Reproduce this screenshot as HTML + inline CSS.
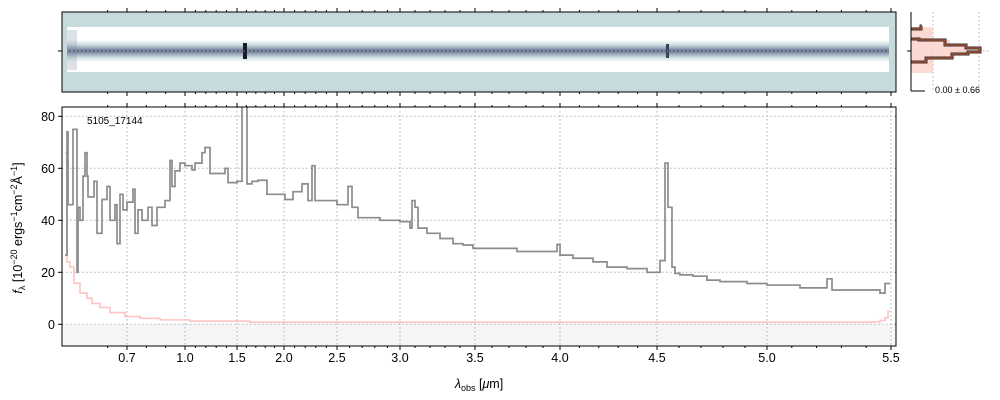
<!DOCTYPE html>
<html><head><meta charset="utf-8"><style>
body{margin:0;background:#fff;}
svg{display:block;font-family:"Liberation Sans","DejaVu Sans",sans-serif;}
</style></head><body>
<svg id="c" width="1000" height="400" viewBox="0 0 1000 400"></svg>
<script>
// spectral pixel index (bin start) and flux values [1e-20 cgs]
const fluxEdges=[3,5,6,11,15,16,18,21,23,25,
 26,32,35,40,45,48,53,55,58,61,
 65,71,73,76,80,86,90,95,103,108,
 110,113,118,123,130,133,140,143,148,163,
 166,175,180,185,190,196,205,223,231,240,
 246,250,253,275,286,290,296,318,338,348,
 350,353,356,365,378,391,401,411,455,495,
 498,511,531,545,565,585,598,603,606,610,
 613,618,631,645,658,685,705,738,765,770,
 818,823];
const fluxVals=[26.6,74,46,75,20,45,40,57,66,57,
 49,55,35,48,53,40,46,31,50,44,
 47,52,35,44,40,45,38,45,47.6,63,
 53,59,62,61,59.4,62,66,68,58,60,
 54.5,55,98,54,55,55.4,50,48,51,54,
 47.6,61,47.6,46,53,45,41,40,39.5,37,
 47.6,45,37,35,33,31,30.5,29.2,28,30.7,
 26.6,25.4,24,22,21.4,20,24.5,62,45,22,
 19.6,19,18.5,17,16.4,15.7,15.1,14,17.5,13.2,
 12,15.7];
const errEdges=[3,5,8,12,18,25,30,38,48,63,78,98,128,188,808,818,823,826];
const errVals=[66,24,22,15.8,12,10,8,6.5,4.5,3,2.3,1.7,1.2,0.8,0.9,1.5,2.5,5];
const tickLabels=["0.7","1.0","1.5","2.0","2.5","3.0","3.5","4.0","4.5","5.0","5.5"];
const tickIndex=[65,123,175,222,275,338,413,498,595,705,829];
const yTicks=[0,20,40,60,80];
const lastIndex=828;
</script>
<script>
(function(){
const NS="http://www.w3.org/2000/svg";
const svg=document.getElementById('c');
function el(t,a,p){const e=document.createElementNS(NS,t);for(const k in a)e.setAttribute(k,a[k]);(p||svg).appendChild(e);return e;}
const X0=62,X1=896,Y0=107,Y1=346;
const xS=i=>X0+i;
const yS=v=>324.3-v*2.6;
const defs=el('defs',{});
const cp=el('clipPath',{id:'cp'},defs);el('rect',{x:X0,y:Y0,width:X1-X0,height:Y1-Y0},cp);

const main=el('g',{});


el('rect',{x:X0,y:yS(0),width:X1-X0,height:Y1-yS(0),fill:'#f6f6f6'},main);
const grid=el('g',{stroke:'#b0b0b0','stroke-width':1,'stroke-dasharray':'1.5,2.5'},main);


tickIndex.forEach(t=>{el('line',{x1:xS(t),x2:xS(t),y1:Y0,y2:Y1},grid);el('line',{x1:xS(t),x2:xS(t),y1:12,y2:92},grid);});
yTicks.forEach(v=>el('line',{x1:X0,x2:X1,y1:yS(v),y2:yS(v)},grid));
function stepPath(edges,vals){let d='';for(let k=0;k<vals.length;k++){const xa=xS(edges[k]),xb=xS(k+1<edges.length?edges[k+1]:lastIndex);const y=yS(vals[k]);d+=(k?'L':'M')+xa+','+y+'L'+xb+','+y;}return d;}
const ep=el('path',{d:stepPath(errEdges,errVals),fill:'none',stroke:'#ffb4b4','stroke-width':1.6,'stroke-opacity':0.8,'clip-path':'url(#cp)'},main);


const fp=el('path',{d:stepPath(fluxEdges,fluxVals),fill:'none',stroke:'#808080','stroke-width':1.7,'stroke-opacity':0.9,'clip-path':'url(#cp)'},main);


el('rect',{x:X0,y:Y0,width:X1-X0,height:Y1-Y0,fill:'none',stroke:'#000','stroke-width':1},main);
const idt=el('text',{x:87,y:124,'font-size':10,fill:'#000'},main);idt.textContent='5105_17144';


function minorTicks(){const m=[];for(let k=0;k<tickIndex.length-1;k++){const a=tickIndex[k],b=tickIndex[k+1];const la=parseFloat(tickLabels[k]),lb=parseFloat(tickLabels[k+1]);const n=Math.round((lb-la)/0.1);for(let j=1;j<n;j++)m.push(a+(b-a)*j/n);}m.push(tickIndex[0]-(tickIndex[1]-tickIndex[0])/3);return m;}
const mt=minorTicks();
function xticks(t0,b0){tickIndex.forEach(t=>{el('line',{x1:xS(t),x2:xS(t),y1:t0,y2:t0-4,stroke:'#000'});el('line',{x1:xS(t),x2:xS(t),y1:b0,y2:b0+4,stroke:'#000'});});
mt.forEach(t=>{el('line',{x1:xS(t),x2:xS(t),y1:t0,y2:t0-2,stroke:'#000'});el('line',{x1:xS(t),x2:xS(t),y1:b0,y2:b0+2,stroke:'#000'});});}
xticks(Y0,Y1);xticks(12,92);
tickLabels.forEach((l,k)=>{const t=el('text',{x:xS(tickIndex[k]),y:362,'font-size':12.5,'text-anchor':'middle'});t.textContent=l;

});
yTicks.forEach(v=>{el('line',{x1:X0,x2:X0-4,y1:yS(v),y2:yS(v),stroke:'#000'});const t=el('text',{x:X0-7,y:yS(v)+4.5,'font-size':12.5,'text-anchor':'end'});t.textContent=v;

});
const xl=el('text',{x:479,y:388,'font-size':12.5,'text-anchor':'middle'});
xl.innerHTML='<tspan font-style="italic">λ</tspan><tspan font-size="9" dy="3">obs</tspan><tspan dy="-3"> [</tspan><tspan font-style="italic">μ</tspan>m]';


const yl=el('text',{x:0,y:0,'font-size':12.5,'text-anchor':'middle',transform:'translate(22,228) rotate(-90)'});
yl.innerHTML='<tspan font-style="italic">f</tspan><tspan font-size="9" dy="3">λ</tspan><tspan dy="-3"> [10</tspan><tspan font-size="9" dy="-5">−20</tspan><tspan dy="5"> ergs</tspan><tspan font-size="9" dy="-5">−1</tspan><tspan dy="5">cm</tspan><tspan font-size="9" dy="-5">−2</tspan><tspan dy="5">Å</tspan><tspan font-size="9" dy="-5">−1</tspan><tspan dy="5">]</tspan>';



const topPanel=el('g',{});


const g2=el('linearGradient',{id:'tr',x1:0,y1:0,x2:0,y2:1},defs);
[[0,'#ffffff'],[0.2,'#d0e2e2'],[0.4,'#8e9cb0'],[0.5,'#56607e'],[0.6,'#8e9cb0'],[0.8,'#d0e2e2'],[1,'#ffffff']].forEach(s=>el('stop',{offset:s[0],'stop-color':s[1]},g2));
el('rect',{x:X0,y:12,width:X1-X0,height:80,fill:'#c6dbdb'},topPanel);
el('rect',{x:67,y:27,width:822,height:45,fill:'#fff'},topPanel);
el('rect',{x:67,y:40,width:822,height:22,fill:'url(#tr)'},topPanel);
el('rect',{x:243,y:43,width:4,height:16,fill:'#1a1a2e'},topPanel);
el('rect',{x:666,y:44,width:3,height:14,fill:'#3a4060'},topPanel);
el('rect',{x:67,y:30,width:10,height:40,fill:'#7a88a0',opacity:0.25},topPanel);
el('line',{x1:67,x2:889,y1:51,y2:51,stroke:'#fff','stroke-width':0.8,'stroke-dasharray':'1.5,2.5',opacity:0.6},topPanel);
el('rect',{x:X0,y:12,width:X1-X0,height:80,fill:'none',stroke:'#000'},topPanel);
el('line',{x1:X0,x2:X0-4,y1:51,y2:51,stroke:'#000'},topPanel);

const h=el('g',{});


[933,979].forEach(x=>el('line',{x1:x,x2:x,y1:12,y2:91,stroke:'#b0b0b0','stroke-dasharray':'1.5,2.5'},h));
el('line',{x1:911,x2:990,y1:51,y2:51,stroke:'#b0b0b0','stroke-dasharray':'1.5,2.5'},h);
el('path',{d:'M911,27 L933,27 L933,40 L950,40 L950,45 L965,45 L965,50 L980,50 L980,53 L955,53 L955,58 L933,58 L933,73 L911,73 Z',fill:'#fdd0c8',opacity:0.8},h);
const hp='M911,29 L921,29 L921,26 L922,26 M911,39 L919,39 L919,40 L945,40 L945,45 L966,45 L966,48 L980,48 L980,52 L968,52 L968,54 L952,54 L952,58 L926,58 L926,62 L911,62';
el('path',{d:hp,fill:'none',stroke:'#3a2a2a','stroke-width':3},h);
el('path',{d:hp,fill:'none',stroke:'#c8643c','stroke-width':1},h);
el('line',{x1:911,x2:911,y1:12,y2:91,stroke:'#000'},h);
el('line',{x1:911,x2:925,y1:91,y2:91,stroke:'#000'},h);
el('line',{x1:911,x2:907,y1:51,y2:51,stroke:'#000'},h);
const ht=el('text',{x:935,y:93,'font-size':9},h);ht.textContent='0.00 ± 0.66';


})();
</script>
</body></html>
